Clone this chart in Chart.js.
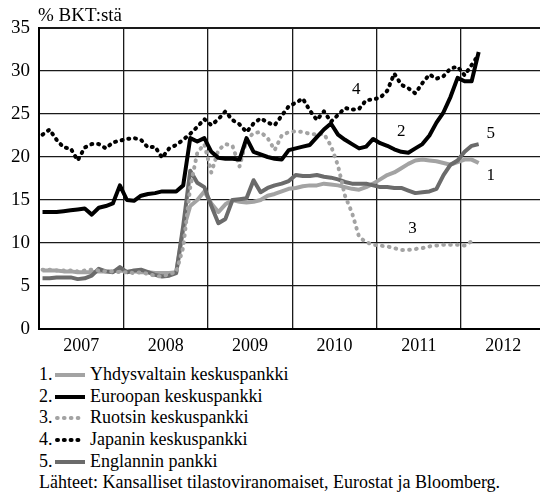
<!DOCTYPE html>
<html>
<head>
<meta charset="utf-8">
<script src="https://cdn.jsdelivr.net/npm/chart.js@4.4.1/dist/chart.umd.min.js"></script>
<style>
  html, body { margin: 0; padding: 0; background: #fff; }
  body { width: 540px; height: 492px; overflow: hidden; position: relative; font-family: 'Liberation Serif', 'Times New Roman', serif; }
  #wrap { position: absolute; left: 0; top: 0; width: 548px; height: 362px; }
  #legend { position: absolute; left: 39px; top: 364px; font-size: 18px; line-height: 21.7px; color: #000; white-space: nowrap; }
  #legend .row { display: flex; align-items: center; height: 21.7px; }
  #legend .num { width: 16px; }
  #legend svg { margin: 0 5px 0 0; }
</style>
</head>
<body>
<div id="wrap"><canvas id="chart"></canvas></div>
<div id="legend"></div>
<script>
// vuodet ja kuukaudet (kategoria-akseli)
const years = ['2007', '2008', '2009', '2010', '2011', '2012'];
const monthNames = ['01', '02', '03', '04', '05', '06', '07', '08', '09', '10', '11', '12'];
const yTicks = [0, 5, 10, 15, 20, 25, 30, 35];

// % BKT:stä, kuukausittain 2007/01 - 2012/03
const usa = [6.8, 6.8, 6.8, 6.7, 6.7, 6.6, 6.6, 6.6, 6.7, 6.7, 6.7, 6.8, 6.7, 6.7, 6.6, 6.6, 6.5, 6.5, 6.5, 6.6,
  11.5, 14.3, 15.0, 16.0, 14.6, 13.6, 14.5, 15.0, 14.8, 14.7, 14.8, 15.0, 15.5, 15.7, 16.0, 16.3, 16.4, 16.6, 16.7, 16.7,
  16.9, 16.8, 16.7, 16.5, 16.3, 16.2, 16.5, 16.9, 17.4, 17.9, 18.2, 18.7, 19.2, 19.6, 19.7, 19.6, 19.5, 19.3, 19.1, 19.4,
  19.7, 19.7, 19.3];
const ecb = [13.6, 13.6, 13.6, 13.7, 13.8, 13.9, 14.0, 13.3, 14.1, 14.3, 14.6, 16.7, 15.0, 14.9, 15.5, 15.7, 15.8, 16.0, 16.0, 16.0,
  16.7, 22.2, 21.8, 22.2, 20.6, 19.9, 19.8, 19.8, 19.7, 22.2, 20.6, 20.3, 20.0, 19.8, 19.7, 20.8, 21.0, 21.2, 21.4, 22.3,
  23.2, 23.9, 22.6, 22.0, 21.5, 21.0, 21.2, 22.1, 21.6, 21.3, 20.9, 20.6, 20.5, 21.0, 21.5, 22.5, 24.0, 25.2, 27.0, 29.2,
  28.8, 28.8, 32.2];
const riksbank = [6.9, 6.9, 6.8, 6.8, 6.8, 6.7, 6.8, 6.9, 6.8, 6.7, 6.7, 6.6, 6.6, 6.5, 6.6, 6.4, 6.2, 6.1, 6.4, 6.6,
  9.5, 16.5, 20.5, 21.5, 18.2, 20.8, 21.5, 21.3, 18.9, 22.0, 22.8, 22.9, 22.2, 20.8, 22.5, 22.9, 23.0, 22.9, 22.7, 22.6,
  22.7, 21.3, 19.0, 15.5, 13.5, 10.7, 10.1, 9.8, 9.7, 9.6, 9.4, 9.2, 9.2, 9.3, 9.4, 9.6, 9.7, 9.8, 9.8, 9.8,
  9.7, 10.2, null];
const boj = [22.6, 23.2, 22.0, 21.1, 21.0, 19.6, 21.1, 21.5, 21.5, 21.0, 21.7, 21.9, 22.1, 22.2, 22.0, 21.1, 21.2, 19.9, 21.0, 21.4,
  22.0, 22.7, 23.5, 24.4, 23.7, 24.4, 25.3, 24.3, 23.8, 22.9, 23.9, 24.5, 24.0, 23.7, 24.8, 25.9, 26.3, 26.8, 25.4, 24.3,
  25.3, 24.1, 24.9, 25.7, 25.5, 25.6, 26.6, 26.7, 26.9, 27.7, 29.7, 28.4, 28.0, 27.4, 28.6, 29.6, 29.1, 29.4, 30.3, 30.5,
  29.5, 30.7, 31.9];
const boe = [5.9, 5.9, 6.0, 6.0, 6.0, 5.8, 5.9, 6.2, 7.0, 6.7, 6.6, 7.2, 6.6, 6.8, 6.9, 6.6, 6.3, 6.1, 6.2, 6.5,
  12.0, 18.4, 17.0, 16.5, 14.3, 12.3, 12.8, 15.0, 15.1, 15.2, 17.3, 15.9, 16.4, 16.7, 16.9, 17.2, 17.9, 17.8, 17.8, 17.9,
  17.7, 17.6, 17.4, 17.1, 16.9, 16.9, 16.9, 16.7, 16.5, 16.5, 16.4, 16.4, 16.1, 15.8, 15.9, 16.0, 16.3, 17.9, 19.1, 19.6,
  20.6, 21.3, 21.5];

const seriesNames = ['Yhdysvaltain keskuspankki', 'Euroopan keskuspankki', 'Ruotsin keskuspankki', 'Japanin keskuspankki', 'Englannin pankki'];
// numerotunnisteet kuvassa: [teksti, kuukausi-indeksi, arvo]
const lineTags = [['4', 44.6, 27.9], ['2', 51.0, 23.0], ['5', 63.7, 22.7], ['1', 63.7, 17.9], ['3', 52.6, 11.7]];

const LIGHT = '#a3a3a3';
const DARK = '#6b6b6b';
const FONT = 'Liberation Serif';

const monthLabels = years.flatMap(y => monthNames.map(m => y + '/' + m));

const styles = [
  { color: LIGHT, dash: [], cap: 'butt', order: 4 },
  { color: '#000', dash: [], cap: 'butt', order: 0 },
  { color: LIGHT, dash: [0.7, 6.2], cap: 'round', order: 2 },
  { color: '#000', dash: [1.0, 5.8], cap: 'round', order: 1 },
  { color: DARK, dash: [], cap: 'butt', order: 3 }
];
const allData = [usa, ecb, riksbank, boj, boe];

const titlePlugin = {
  id: 'yTitle',
  afterDraw(chart) {
    const { ctx, chartArea: { left, top } } = chart;
    ctx.save();
    ctx.fillStyle = '#000';
    ctx.font = '19px ' + FONT;
    ctx.textAlign = 'left';
    ctx.textBaseline = 'middle';
    ctx.fillText('% BKT:stä', left - 1, top - 12);
    ctx.restore();
  }
};

const tagPlugin = {
  id: 'lineTags',
  afterDatasetsDraw(chart) {
    const { ctx, scales: { x, y } } = chart;
    ctx.save();
    ctx.fillStyle = '#000';
    ctx.font = '17px ' + FONT;
    ctx.textAlign = 'center';
    ctx.textBaseline = 'middle';
    lineTags.forEach(([t, i, v]) => ctx.fillText(t, x.getPixelForValue(i), y.getPixelForValue(v)));
    ctx.restore();
  }
};

new Chart(document.getElementById('chart'), {
  type: 'line',
  data: {
    labels: monthLabels,
    datasets: allData.map((d, k) => ({
      label: seriesNames[k],
      data: d,
      borderColor: styles[k].color,
      borderWidth: 4,
      borderDash: styles[k].dash,
      borderCapStyle: styles[k].cap,
      borderJoinStyle: 'round',
      order: styles[k].order,
      pointRadius: 0,
      tension: 0,
      fill: false,
      spanGaps: false
    }))
  },
  options: {
    responsive: true,
    maintainAspectRatio: false,
    animation: false,
    layout: { padding: { top: 28, right: 1, left: 0, bottom: 0 } },
    scales: {
      x: {
        offset: true,
        afterFit: (s) => { s.height = 33; },
        border: { color: '#000', width: 2 },
        grid: {
          offset: true,
          drawTicks: false,
          lineWidth: 1.3,
          color: (c) => (c.index % 12 === 0 && c.index > 0 ? '#1a1a1a' : 'rgba(0,0,0,0)')
        },
        ticks: {
          autoSkip: false,
          maxRotation: 0,
          minRotation: 0,
          padding: 6,
          labelOffset: -3.5,
          color: '#000',
          font: { family: FONT, size: 18 },
          callback: (v, i) => (i % 12 === 6 ? years[Math.floor(i / 12)] : '')
        }
      },
      y: {
        min: 0,
        max: 35,
        afterFit: (s) => { s.width = 39; },
        afterBuildTicks: (s) => { s.ticks = yTicks.map(v => ({ value: v })); },
        border: { color: '#000', width: 2 },
        grid: {
          drawTicks: false,
          color: '#1a1a1a',
          lineWidth: (c) => (c.tick && c.tick.value === 35 ? 2 : 1.3)
        },
        ticks: {
          padding: 9,
          color: '#000',
          font: { family: FONT, size: 19 }
        }
      }
    },
    plugins: {
      legend: { display: false },
      tooltip: { enabled: false }
    }
  },
  plugins: [titlePlugin, tagPlugin]
});

// selite kuvion alle
const legendEl = document.getElementById('legend');
seriesNames.forEach((name, k) => {
  const s = styles[k];
  const dash = s.dash.length ? ` stroke-dasharray="${s.dash.join(' ')}"` : '';
  legendEl.insertAdjacentHTML('beforeend',
    `<div class="row"><span class="num">${k + 1}.</span>` +
    `<svg width="30" height="8"><line x1="${s.cap === 'round' ? 2 : 0}" y1="4" x2="${s.cap === 'round' ? 28 : 30}" y2="4" stroke="${s.color}" stroke-width="4" stroke-linecap="${s.cap}"${dash}/></svg>` +
    `<span>${name}</span></div>`);
});
legendEl.insertAdjacentHTML('beforeend', '<div class="row"><span>Lähteet: Kansalliset tilastoviranomaiset, Eurostat ja Bloomberg.</span></div>');
</script>
</body>
</html>
